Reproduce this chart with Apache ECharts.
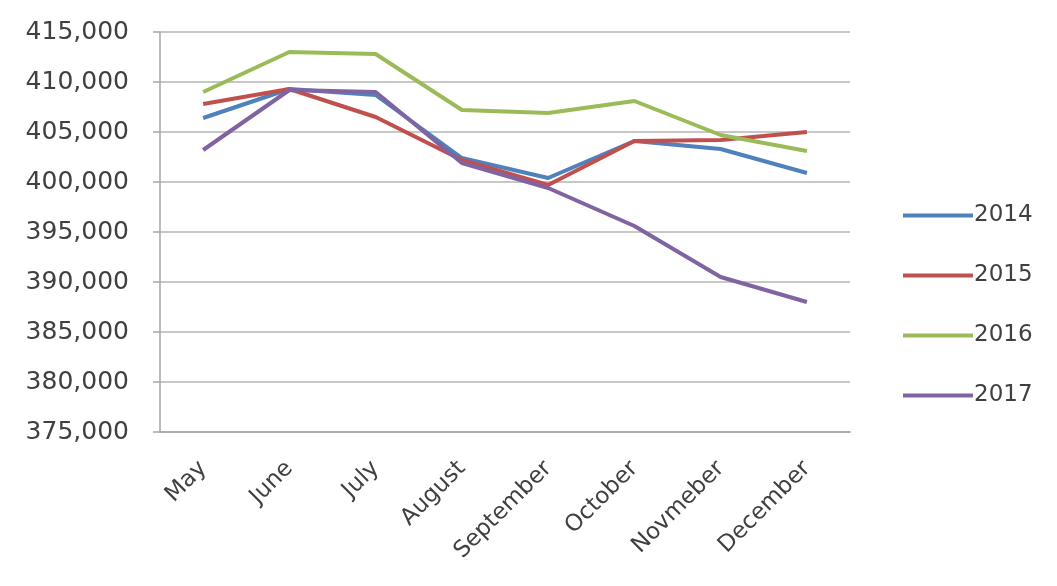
<!DOCTYPE html>
<html>
<head>
<meta charset="utf-8">
<script src="https://cdn.jsdelivr.net/npm/echarts@6/dist/echarts.min.js"></script>
<style>html,body{margin:0;padding:0;background:#fff;}#c{width:1057px;height:586px;}</style>
</head>
<body>
<div id="c"></div>
<script>
const categories = ['May','June','July','August','September','October','Novmeber','December'];
const s2014 = [406400, 409300, 408700, 402400, 400400, 404100, 403300, 400900];
const s2015 = [407800, 409300, 406500, 402200, 399700, 404100, 404200, 405000];
const s2016 = [409000, 413000, 412800, 407200, 406900, 408100, 404700, 403100];
const s2017 = [403200, 409200, 409000, 401900, 399400, 395600, 390500, 388000];
const yMin = 375000, yMax = 415000, yStep = 5000;

const font = 'DejaVu Sans';
const textColor = '#404040';
const chart = echarts.init(document.getElementById('c'));
function mk(name, data, color) {
  return { name, type: 'line', data, symbol: 'none', smooth: false,
    lineStyle: { color, width: 4 }, itemStyle: { color } };
}
chart.setOption({
  animation: false,
  backgroundColor: '#fff',
  grid: { left: 160, right: 207, top: 32, bottom: 154, containLabel: false },
  legend: {
    orient: 'vertical', left: 898, top: 199, itemWidth: 70, itemHeight: 4, itemGap: 37,
    icon: 'rect',
    textStyle: { fontFamily: font, fontSize: 23, color: textColor, padding: [0,0,0,-4] },
    data: ['2014','2015','2016','2017']
  },
  xAxis: {
    type: 'category', data: categories, boundaryGap: true,
    axisLine: { lineStyle: { color: '#a6a6a6', width: 1.5 } },
    axisTick: { show: false },
    axisLabel: { rotate: 45, interval: 0, margin: 33, fontFamily: font, fontSize: 23, color: textColor }
  },
  yAxis: {
    type: 'value', min: yMin, max: yMax, interval: yStep,
    axisLine: { show: true, lineStyle: { color: '#a6a6a6', width: 1.5 } },
    axisTick: { show: true, inside: false, length: 7, lineStyle: { color: '#a6a6a6', width: 1.5 } },
    splitLine: { lineStyle: { color: '#b4b4b4', width: 1.5 } },
    axisLabel: { margin: 31, fontFamily: font, fontSize: 25, color: textColor,
      formatter: v => v.toLocaleString('en-US') }
  },
  series: [
    mk('2014', s2014, '#4F81BD'),
    mk('2015', s2015, '#C0504D'),
    mk('2016', s2016, '#9BBB59'),
    mk('2017', s2017, '#8064A2')
  ]
});
</script>
</body>
</html>
